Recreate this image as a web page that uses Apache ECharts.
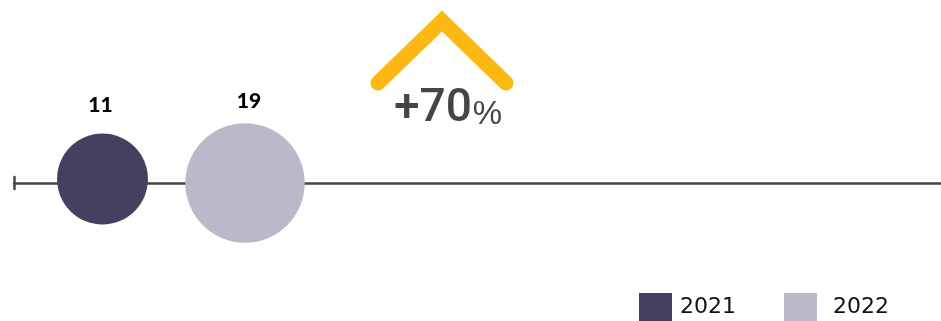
<!DOCTYPE html>
<html>
<head>
<meta charset="utf-8">
<style>
  html, body { margin: 0; padding: 0; background: #ffffff; }
  #chart { width: 941px; height: 321px; }
</style>
<script src="https://cdn.jsdelivr.net/npm/echarts@6/dist/echarts.min.js"></script>
</head>
<body>
<div id="chart"></div>
<script>
// Yearly totals, shown as bubbles whose area follows the value
const years = ['2021', '2022'];
const totals = [11, 19];
const yearColors = ['#463f5f', '#bbb9c9'];
const changeLabel = ['+70', '%'];

const SIZE_PER_ROOT = 27.4;   // bubble diameter per sqrt(value)

const chart = echarts.init(document.getElementById('chart'));

const series = years.map((year, i) => ({
  name: year,
  type: 'scatter',
  clip: false,
  data: [[i, 0, totals[i]]],
  symbol: 'circle',
  symbolSize: d => SIZE_PER_ROOT * Math.sqrt(d[2]),
  symbolOffset: i === 0 ? [0, -4] : [0, 0],
  itemStyle: { color: yearColors[i], opacity: 1 },
  label: {
    show: true,
    position: 'top',
    distance: i === 0 ? 18 : 12,
    offset: i === 0 ? [-2, 0] : [4, 0],
    formatter: p => String(p.value[2]),
    fontFamily: 'Lato, "DejaVu Sans", sans-serif',
    fontWeight: 900,
    fontSize: 21,
    color: '#000000'
  },
  emphasis: { disabled: true },
  z: 3
}));

// one legend block per year so each entry can sit at its own spot
const legendLefts = [634, 779];
const legendTextPad = [3, 11];
const legends = years.map((year, i) => ({
  data: [year],
  left: legendLefts[i],
  top: 288,
  icon: 'rect',
  itemWidth: 33,
  itemHeight: 28,
  selectedMode: false,
  textStyle: {
    fontFamily: '"DejaVu Sans", sans-serif',
    fontSize: 22,
    color: '#111111',
    padding: [0, 0, 0, legendTextPad[i]]
  }
}));

chart.setOption({
  animation: false,
  backgroundColor: '#ffffff',
  grid: { left: 14, right: 0, top: 177, height: 12 },
  xAxis: {
    type: 'value',
    min: -0.621,
    max: 5.884,
    axisLine: { show: true, onZero: true, lineStyle: { color: '#454545', width: 2.5 } },
    axisTick: { show: false },
    axisLabel: { show: false },
    splitLine: { show: false }
  },
  yAxis: {
    type: 'value',
    min: -1,
    max: 1,
    axisLine: { show: true, onZero: false, lineStyle: { color: '#454545', width: 2.5 } },
    axisTick: { show: false },
    axisLabel: { show: false },
    splitLine: { show: false }
  },
  legend: legends,
  graphic: [
    {
      type: 'polyline',
      shape: { points: [[378, 83], [442, 21], [506, 83]] },
      style: {
        stroke: '#fcb813',
        lineWidth: 15,
        lineCap: 'round',
        lineJoin: 'miter',
        fill: null
      },
      z: 5
    },
    {
      type: 'text',
      left: 394,
      top: 86,
      style: {
        text: '{a|' + changeLabel[0] + '}{b|' + changeLabel[1] + '}',
        fill: '#454545',
        rich: {
          a: {
            fontFamily: 'Roboto, "Liberation Sans", Arial, sans-serif',
            fontWeight: 500,
            fontSize: 46,
            fill: '#454545',
            verticalAlign: 'bottom'
          },
          b: {
            fontFamily: '"Liberation Sans", Arial, sans-serif',
            fontSize: 33,
            fill: '#454545',
            verticalAlign: 'bottom',
            padding: [0, 0, 1, 1]
          }
        }
      },
      z: 5
    }
  ],
  series: series
});
</script>
</body>
</html>
